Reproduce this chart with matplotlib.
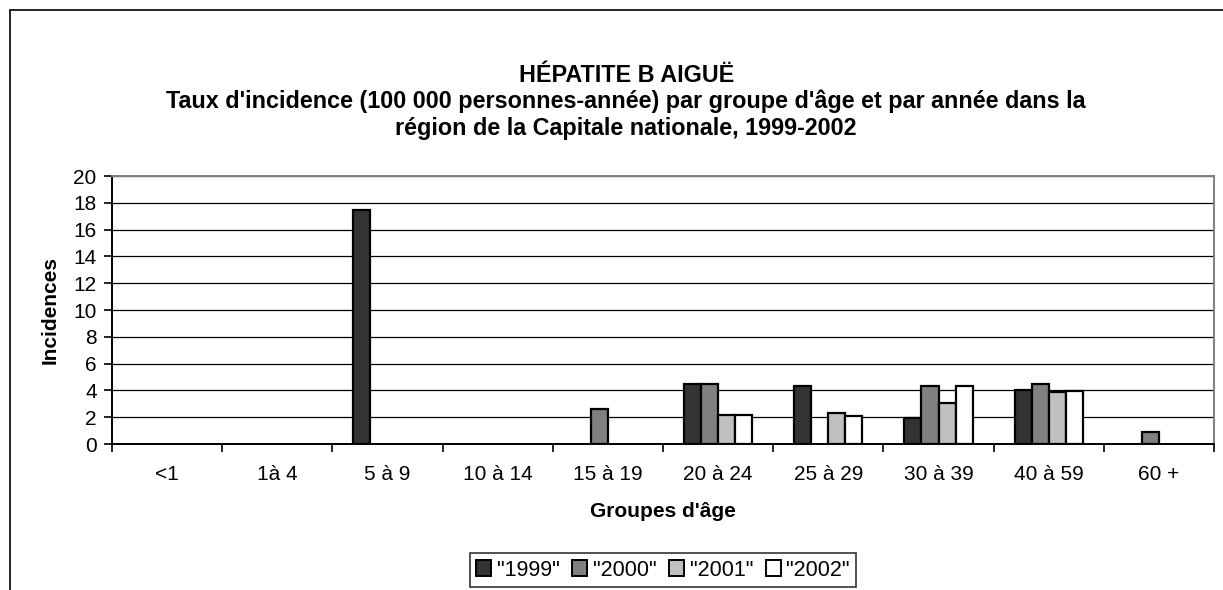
import numpy as np
import matplotlib
matplotlib.use("Agg")
import matplotlib.pyplot as plt
from matplotlib.lines import Line2D
from matplotlib.patches import Patch

plt.rcParams["font.family"] = ["Liberation Sans", "DejaVu Sans"]

age_groups = ["<1", "1à 4", "5 à 9", "10 à 14", "15 à 19", "20 à 24",
              "25 à 29", "30 à 39", "40 à 59", "60 +"]
years = ['"1999"', '"2000"', '"2001"', '"2002"']

rate_1999 = [0, 0, 17.5, 0, 0, 4.45, 4.35, 1.95, 4.05, 0]
rate_2000 = [0, 0, 0, 0, 2.6, 4.45, 0, 4.3, 4.48, 0.88]
rate_2001 = [0, 0, 0, 0, 0, 2.15, 2.28, 3.05, 3.85, 0]
rate_2002 = [0, 0, 0, 0, 0, 2.15, 2.08, 4.3, 3.98, 0]

title_lines = [
    "HÉPATITE B AIGUË",
    "Taux d'incidence (100 000 personnes-année) par groupe d'âge et par année dans la",
    "région de la Capitale nationale, 1999-2002",
]

series = [rate_1999, rate_2000, rate_2001, rate_2002]
colors = ["#333333", "#808080", "#c0c0c0", "#ffffff"]

fig = plt.figure(figsize=(12.23, 5.90), dpi=100)
ax = fig.add_axes([112 / 1223, 1 - 444 / 590, 1102 / 1223, 268 / 590])

# outer chart frame (only top and left edges visible in the crop)
fx, fy = 10 / 1223, 1 - 10 / 590
fig.add_artist(Line2D([fx, 1.0], [fy, fy], transform=fig.transFigure, color="#222222", lw=1.4))
fig.add_artist(Line2D([fx, fx], [0.0, fy], transform=fig.transFigure, color="#222222", lw=1.4))

x = np.arange(len(age_groups))
width = 0.155
for i, (vals, c) in enumerate(zip(series, colors)):
    vals = np.array(vals, dtype=float)
    mask = vals > 0
    ax.bar(x[mask] + (i - 1.5) * width, vals[mask], width, color=c,
           edgecolor="black", linewidth=1.6, zorder=3)

ax.set_xlim(-0.5, len(age_groups) - 0.5)
ax.set_ylim(0, 20)
ax.set_yticks(np.arange(0, 21, 2))
ax.yaxis.grid(True, color="black", linewidth=0.9, zorder=0)
ax.set_axisbelow(True)

ax.set_xticks(x)
ax.set_xticklabels(age_groups, fontsize=15)
ax.tick_params(axis="x", length=0, pad=15)
ax.set_xticks(np.arange(-0.5, len(age_groups)), minor=True)
ax.tick_params(axis="x", which="minor", length=6, width=1.2, direction="out")
ax.tick_params(axis="y", labelsize=15, length=6, width=1.2, direction="out", pad=5)

for side in ["top", "right"]:
    ax.spines[side].set_color("#808080")
    ax.spines[side].set_linewidth(1.4)
for side in ["left", "bottom"]:
    ax.spines[side].set_color("black")
    ax.spines[side].set_linewidth(1.4)

ax.set_ylabel("Incidences", fontsize=15, fontweight="bold", labelpad=10)
ax.set_xlabel("Groupes d'âge", fontsize=15, fontweight="bold", labelpad=13)

for line, ypix in zip(title_lines, [75, 101, 128]):
    fig.text(0.512, 1 - ypix / 590, line, ha="center", va="center",
             fontsize=16.8, fontweight="bold")

handles = [Patch(facecolor=c, edgecolor="black", linewidth=1.4) for c in colors]
leg = fig.legend(handles, years, loc="center", bbox_to_anchor=(663 / 1223, 1 - 570 / 590),
                 ncol=4, fontsize=15.5, frameon=True, fancybox=False, handlelength=0.7,
                 handleheight=0.7, handletextpad=0.25, columnspacing=0.6,
                 borderpad=0.3, edgecolor="black")
leg.get_frame().set_linewidth(1.2)

fig.savefig("out.png", dpi=100)
